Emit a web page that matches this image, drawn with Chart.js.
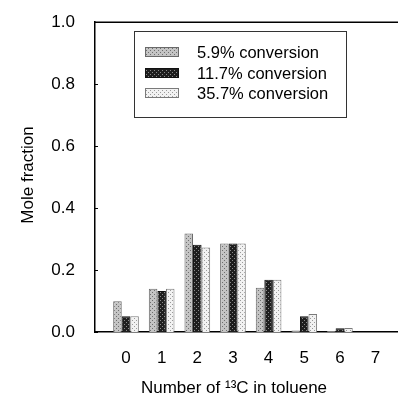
<!DOCTYPE html>
<html>
<head>
<meta charset="utf-8">
<script src="https://cdn.jsdelivr.net/npm/chart.js@4"></script>
<style>
  body { margin: 0; background: #fff; }
  #wrap { width: 398px; height: 404px; }
</style>
</head>
<body>
<div id="wrap"><canvas id="chart" width="398" height="404"></canvas></div>
<script>
// Data
const categories = [0, 1, 2, 3, 4, 5, 6, 7];
const seriesLabels = ['5.9% conversion', '11.7% conversion', '35.7% conversion'];
const conv59 = [0.099, 0.140, 0.318, 0.286, 0.143, 0.005, 0.003, 0.0];
const conv117 = [0.051, 0.132, 0.282, 0.286, 0.169, 0.051, 0.012, 0.0];
const conv357 = [0.051, 0.140, 0.273, 0.286, 0.169, 0.058, 0.013, 0.0];
const yTicks = [0, 0.2, 0.4, 0.6, 0.8, 1.0];

const FONT = 'Liberation Sans, Arial, sans-serif';

// screentone-like fills
function makePattern(base, dot, step) {
  const c = document.createElement('canvas');
  c.width = step; c.height = step;
  const g = c.getContext('2d');
  g.fillStyle = base;
  g.fillRect(0, 0, step, step);
  g.fillStyle = dot;
  g.fillRect(0, 0, 1, 1);
  g.fillRect(2, 2, 1, 1);
  return g.createPattern(c, 'repeat');
}
const fills = [
  makePattern('#c4c4c4', '#6e6e6e', 4),
  makePattern('#1e1e1e', '#8a8a8a', 4),
  makePattern('#f2f2f2', '#9a9a9a', 4)
];
const borders = ['#6a6a6a', '#111111', '#7a7a7a'];

function toPoints(values) {
  return values.map((v, i) => ({ x: categories[i], y: v }));
}

// frame line on top, inward y ticks, axis titles, legend box
const decorPlugin = {
  id: 'decor',
  afterDraw(chart) {
    const ctx = chart.ctx;
    const area = chart.chartArea;
    const y = chart.scales.y;
    ctx.save();
    ctx.strokeStyle = '#000';
    ctx.lineWidth = 1.5;
    ctx.beginPath();
    ctx.moveTo(area.left, area.top);
    ctx.lineTo(area.right, area.top);
    ctx.stroke();

    ctx.lineWidth = 1;
    yTicks.forEach(t => {
      const py = Math.round(y.getPixelForValue(t)) + 0.5;
      ctx.beginPath();
      ctx.moveTo(area.left, py);
      ctx.lineTo(area.left + 3, py);
      ctx.stroke();
    });

    // axis titles
    ctx.fillStyle = '#000';
    ctx.font = '17px ' + FONT;
    ctx.textAlign = 'center';
    ctx.textBaseline = 'middle';
    ctx.fillText('Number of ¹³C in toluene', 234, 388);
    ctx.save();
    ctx.translate(28, 175);
    ctx.rotate(-Math.PI / 2);
    ctx.fillText('Mole fraction', 0, 0);
    ctx.restore();

    // legend
    ctx.lineWidth = 1;
    ctx.strokeStyle = '#333';
    ctx.strokeRect(134.5, 31.5, 212, 86);
    ctx.font = '16.5px ' + FONT;
    ctx.textAlign = 'left';
    const rows = [52, 73, 93];
    chart.data.datasets.forEach((ds, i) => {
      ctx.fillStyle = ds.backgroundColor;
      ctx.fillRect(145, rows[i] - 5, 34, 10);
      ctx.strokeStyle = ds.borderColor;
      ctx.strokeRect(145.5, rows[i] - 4.5, 33, 9);
      ctx.fillStyle = '#000';
      ctx.fillText(ds.label, 197, rows[i] + 1);
    });
    ctx.restore();
  }
};

new Chart(document.getElementById('chart'), {
  type: 'bar',
  data: {
    datasets: [conv59, conv117, conv357].map((vals, i) => ({
      label: seriesLabels[i],
      data: toPoints(vals),
      backgroundColor: fills[i],
      borderColor: borders[i],
      borderWidth: 1,
      categoryPercentage: 0.72,
      barPercentage: 1.0
    }))
  },
  options: {
    responsive: false,
    animation: false,
    layout: { padding: { top: 18, right: 0, left: 0, bottom: 0 } },
    plugins: {
      legend: { display: false },
      tooltip: { enabled: false }
    },
    scales: {
      x: {
        type: 'linear',
        offset: false,
        min: -0.87,
        max: 7.63,
        grid: { display: false },
        border: { display: true, color: '#000', width: 1.5 },
        afterBuildTicks(scale) {
          scale.ticks = categories.map(v => ({ value: v }));
        },
        afterFit(scale) { scale.height = 72; },
        ticks: {
          color: '#000',
          padding: 8,
          font: { size: 17, family: FONT },
          callback: v => String(v)
        }
      },
      y: {
        min: 0,
        max: 1,
        grid: { display: false },
        border: { display: true, color: '#000', width: 1.5 },
        afterBuildTicks(scale) {
          scale.ticks = yTicks.map(v => ({ value: v }));
        },
        afterFit(scale) { scale.width = 95; },
        ticks: {
          color: '#000',
          padding: 12,
          font: { size: 17, family: FONT },
          callback: v => Number(v).toFixed(1)
        }
      }
    }
  },
  plugins: [decorPlugin]
});
</script>
</body>
</html>
